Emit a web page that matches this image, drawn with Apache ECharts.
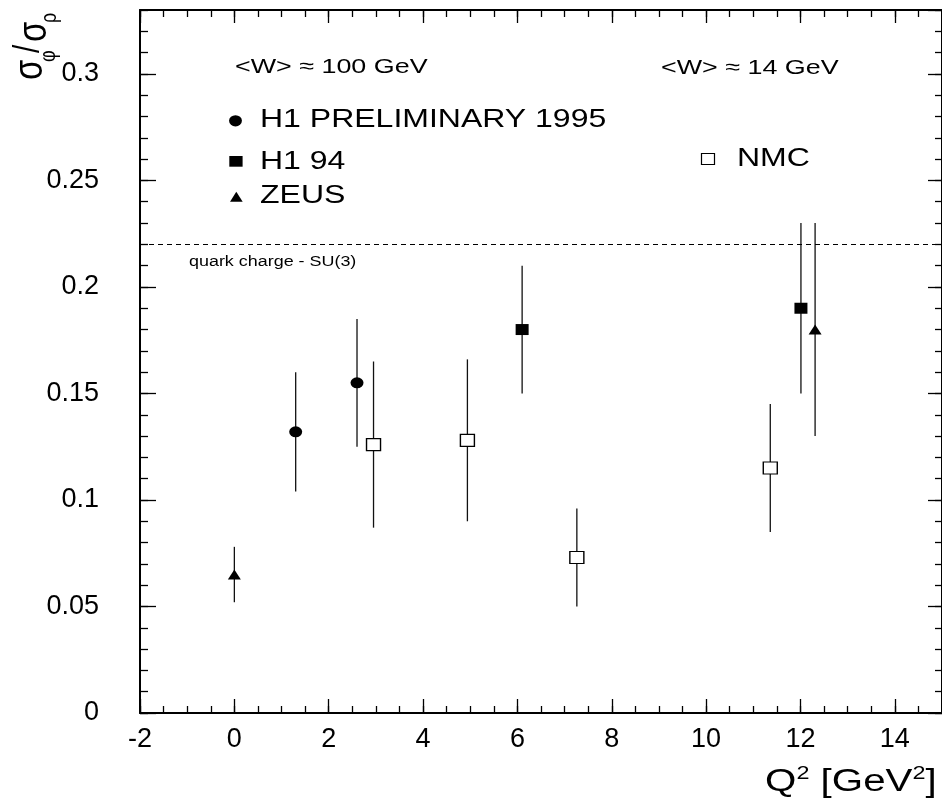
<!DOCTYPE html>
<html><head><meta charset="utf-8">
<script src="https://cdn.jsdelivr.net/npm/echarts@6/dist/echarts.min.js"></script>
<style>html,body{margin:0;padding:0;background:#fff}#c{width:942px;height:800px}</style>
</head><body><div id="c"></div>
<script>
// ---- data ----
const xLimits = [-2, 15];
const yLimits = [0, 0.33];
const quarkChargeLevel = 0.2225;

const h1prelimX  = [1.30, 2.60];
const h1prelimY  = [0.132, 0.155];
const h1prelimLo = [0.104, 0.125];
const h1prelimHi = [0.160, 0.185];

const h194X  = [6.10, 12.01];
const h194Y  = [0.180, 0.190];
const h194Lo = [0.150, 0.150];
const h194Hi = [0.210, 0.230];

const zeusX  = [0.00, 12.31];
const zeusY  = [0.065, 0.180];
const zeusLo = [0.052, 0.130];
const zeusHi = [0.078, 0.230];

const nmcX  = [2.95, 4.94, 7.26, 11.36];
const nmcY  = [0.126, 0.128, 0.073, 0.115];
const nmcLo = [0.087, 0.090, 0.050, 0.085];
const nmcHi = [0.165, 0.166, 0.096, 0.145];

// ---- helpers ----
const FONT = '"Liberation Sans", Arial, Helvetica, sans-serif';
function pts(xs, ys){ return xs.map((x,i)=>[x, ys[i]]); }
function errs(xs, lo, hi){ return xs.map((x,i)=>[x, lo[i], hi[i]]); }
function errRender(params, api){
  const x = api.value(0), lo = api.value(1), hi = api.value(2);
  const p1 = api.coord([x, lo]), p2 = api.coord([x, hi]);
  return {type:'line', shape:{x1:p1[0], y1:p1[1], x2:p2[0], y2:p2[1]},
          style:{stroke:'#111', lineWidth:1.3}};
}
function errSeries(name, data){
  return {type:'custom', name:name+' err', renderItem:errRender, data:data,
          encode:{x:0, y:[1,2]}, z:2, silent:true};
}
const ellipsePath = 'path://M0,1a1,1 0 1,0 2,0a1,1 0 1,0 -2,0z';

function xAx(pos, interval, len, showLine, showLabel){
  return {type:'value', min:xLimits[0], max:xLimits[1], interval:interval, position:pos,
    axisLine:{show:showLine, onZero:false, lineStyle:{color:'#000', width:2}},
    axisTick:{show:true, inside:true, length:len, lineStyle:{color:'#000', width:1.3}},
    axisLabel:{show:showLabel, showMaxLabel:false, color:'#000', fontSize:27, fontFamily:FONT, margin:13},
    splitLine:{show:false}};
}
function yAx(pos, interval, len, showLine, showLabel){
  return {type:'value', min:yLimits[0], max:yLimits[1], interval:interval, position:pos,
    axisLine:{show:showLine, onZero:false, lineStyle:{color:'#000', width:2}},
    axisTick:{show:true, inside:true, length:len, lineStyle:{color:'#000', width:1.3}},
    axisLabel:{show:showLabel, showMaxLabel:false, color:'#000', fontSize:27, fontFamily:FONT, margin:41},
    splitLine:{show:false}};
}

const chart = echarts.init(document.getElementById('c'), null, {renderer:'canvas'});
const SX = 1.28;
function txt(x, y, s, size, sx){
  return {type:'text', x:x, y:y, scaleX:sx||SX, z:10,
    style:{text:s, fontSize:size, fontFamily:FONT, fill:'#000', align:'left', verticalAlign:'middle'}};
}

const option = {
  animation:false,
  backgroundColor:'#fff',
  grid:{left:140, right:-2, top:10, bottom:87, containLabel:false},
  xAxis:[ xAx('bottom', 2, 14, true, true), xAx('bottom', 0.5, 7, false, false),
          xAx('top', 2, 13, true, false),   xAx('top', 0.5, 7, false, false) ],
  yAxis:[ yAx('left', 0.05, 16, true, true), yAx('left', 0.01, 8, false, false),
          yAx('right', 0.05, 14, true, false), yAx('right', 0.01, 7, false, false) ],
  series:[
    errSeries('H1 PRELIMINARY 1995', errs(h1prelimX, h1prelimLo, h1prelimHi)),
    errSeries('H1 94', errs(h194X, h194Lo, h194Hi)),
    errSeries('ZEUS', errs(zeusX, zeusLo, zeusHi)),
    errSeries('NMC', errs(nmcX, nmcLo, nmcHi)),
    {type:'scatter', name:'H1 PRELIMINARY 1995', data:pts(h1prelimX, h1prelimY), symbol:ellipsePath,
      symbolSize:[13,11], itemStyle:{color:'#000', opacity:1}, z:3},
    {type:'scatter', name:'H1 94', data:pts(h194X, h194Y), symbol:'rect',
      symbolSize:[13,11], itemStyle:{color:'#000', opacity:1}, z:3},
    {type:'scatter', name:'ZEUS', data:pts(zeusX, zeusY), symbol:'triangle',
      symbolSize:[13,10], itemStyle:{color:'#000', opacity:1}, z:3},
    {type:'scatter', name:'NMC', data:pts(nmcX, nmcY), symbol:'rect',
      symbolSize:[14,12], itemStyle:{color:'#fff', borderColor:'#000', borderWidth:1.3, opacity:1}, z:3,
      markLine:{silent:true, symbol:'none', label:{show:false},
        lineStyle:{type:[5,4], color:'#000', width:1},
        data:[{yAxis:quarkChargeLevel}]}}
  ],
  graphic:[
    txt(235, 67.6, '<W> \u2248 100 GeV', 21),
    txt(661, 68.6, '<W> \u2248 14 GeV', 21),
    txt(260, 120.2, 'H1 PRELIMINARY 1995', 25),
    txt(260, 161.7, 'H1 94', 25),
    txt(260, 195.8, 'ZEUS', 25),
    txt(737, 159, 'NMC', 25),
    txt(189, 261.7, 'quark charge - SU(3)', 14),
    {type:'circle', x:235.5, y:120.8, scaleX:1.15, z:10, shape:{cx:0, cy:0, r:5.6}, style:{fill:'#000'}},
    {type:'rect', x:229.3, y:156, z:10, shape:{x:0, y:0, width:13.3, height:10.7}, style:{fill:'#000'}},
    {type:'polygon', z:10, shape:{points:[[230,201.7],[242.7,201.7],[236.3,191.7]]}, style:{fill:'#000'}},
    {type:'rect', x:701.5, y:153.5, z:10, shape:{x:0, y:0, width:13, height:11}, style:{fill:'#fff', stroke:'#000', lineWidth:1.2}},
    // x axis title: Q^2 [GeV^2]
    txt(765, 782.4, 'Q', 31, 1.30),
    txt(796.4, 774.5, '2', 18, 1.30),
    txt(809.4, 782.4, ' [GeV', 31, 1.30),
    txt(912.5, 774.5, '2', 18, 1.30),
    txt(925.5, 782.4, ']', 31, 1.30),
    // y axis title (rotated)
    {type:'group', x:31, y:80, rotation:Math.PI/2, scaleY:1.25, z:10, children:[
      {type:'text', x:0, y:0, style:{text:'\u03c3', fontSize:33, fontFamily:FONT, fill:'#000', align:'left', verticalAlign:'middle'}},
      {type:'text', x:18, y:14, style:{text:'\u03c6', fontSize:18, fontFamily:FONT, fill:'#000', align:'left', verticalAlign:'middle'}},
      {type:'text', x:27, y:-2, style:{text:'/', fontSize:30, fontFamily:FONT, fill:'#000', align:'left', verticalAlign:'middle'}},
      {type:'text', x:38, y:3, style:{text:'\u03c3', fontSize:33, fontFamily:FONT, fill:'#000', align:'left', verticalAlign:'middle'}},
      {type:'text', x:57, y:15, style:{text:'\u03c1', fontSize:18, fontFamily:FONT, fill:'#000', align:'left', verticalAlign:'middle'}}
    ]}
  ]
};
chart.setOption(option);
</script>
</body></html>
